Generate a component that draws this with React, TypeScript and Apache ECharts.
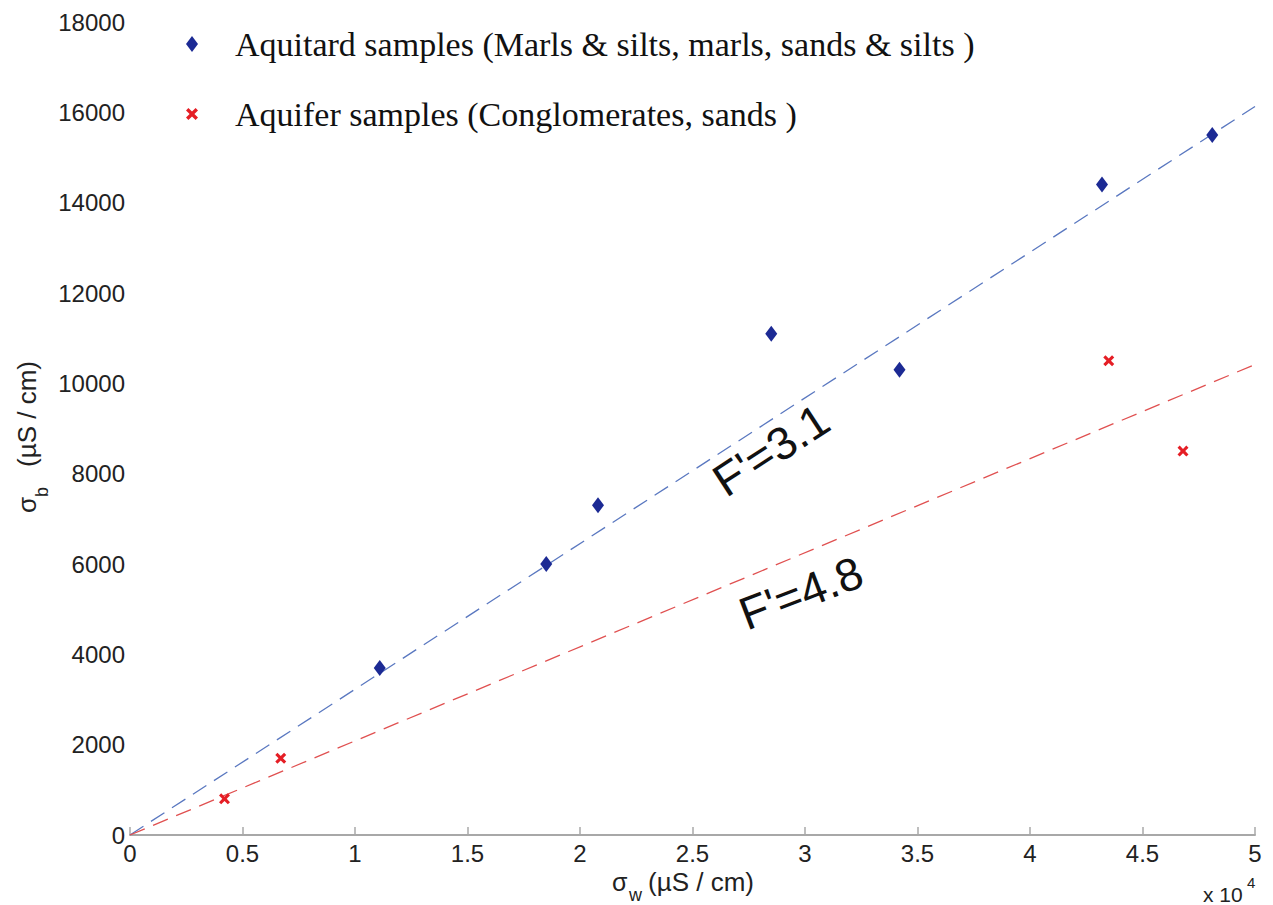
import React, { useEffect, useRef } from "react";
import * as echarts from "echarts";

// sigma_w in µS/cm (axis shows ×10^4), sigma_b in µS/cm
const aquitardX = [11100, 18500, 20800, 28500, 34200, 43200, 48100];
const aquitardY = [3700, 6000, 7300, 11100, 10300, 14400, 15500];
const aquiferX = [4200, 6700, 43500, 46800];
const aquiferY = [800, 1700, 10500, 8500];
const fAquitard = 3.1;
const fAquifer = 4.8;
const xMax = 50000;
const yMax = 18000;
const xInterval = 5000;
const yInterval = 2000;
const aquitardName = "Aquitard samples (Marls & silts, marls, sands & silts )";
const aquiferName = "Aquifer samples (Conglomerates, sands )";

const CROSS = "path://M2,0 L5,3 L8,0 L10,2 L7,5 L10,8 L8,10 L5,7 L2,10 L0,8 L3,5 L0,2 Z";
const DIAMOND = "path://M6,0 L12,8 L6,16 L0,8 Z";

export default function App() {
  const ref = useRef<HTMLDivElement>(null);
  useEffect(() => {
    document.body.style.margin = "0";
    if (!ref.current) return;
    const chart = echarts.init(ref.current, undefined, { renderer: "svg" });
    const sans = "Liberation Sans, Arial, sans-serif";
    const serif = "Liberation Serif, Times New Roman, serif";
    const fitLine = (f: number) => [
      [0, 0],
      [xMax, xMax / f],
    ];
    chart.setOption({
      animation: false,
      backgroundColor: "#ffffff",
      grid: { left: 130, right: 18, top: 22, bottom: 70, containLabel: false },
      legend: {
        orient: "vertical",
        left: 186,
        top: 26,
        padding: 0,
        itemGap: 34,
        itemWidth: 12,
        itemHeight: 16,
        symbolKeepAspect: true,
        textStyle: {
          fontFamily: serif,
          fontSize: 34,
          color: "#111",
          lineHeight: 36,
          padding: [0, 0, 0, 32],
        },
        data: [
          { name: aquitardName, icon: DIAMOND, itemStyle: { color: "#1c2a94", opacity: 1 } },
          { name: aquiferName, icon: CROSS, itemStyle: { color: "#e51e25", opacity: 1 } },
        ],
      },
      xAxis: {
        type: "value",
        min: 0,
        max: xMax,
        interval: xInterval,
        axisLine: { show: true, lineStyle: { color: "#a8a8a8", width: 2 } },
        axisTick: { show: true, inside: true, length: 8, lineStyle: { color: "#a8a8a8", width: 1.5 } },
        axisLabel: {
          fontFamily: sans,
          fontSize: 24,
          color: "#222",
          margin: 6,
          formatter: (v: number) => String(v / 10000),
        },
        splitLine: { show: false },
      },
      yAxis: {
        type: "value",
        min: 0,
        max: yMax,
        interval: yInterval,
        axisLine: { show: false },
        axisTick: { show: false },
        axisLabel: {
          fontFamily: sans,
          fontSize: 24,
          color: "#222",
          margin: 5,
          formatter: (v: number) => String(v),
        },
        splitLine: { show: false },
      },
      series: [
        {
          name: "F'=3.1",
          type: "line",
          data: fitLine(fAquitard),
          showSymbol: false,
          symbol: "none",
          lineStyle: { color: "#5a78c0", width: 1.3, type: [16, 9] },
          z: 1,
        },
        {
          name: "F'=4.8",
          type: "line",
          data: fitLine(fAquifer),
          showSymbol: false,
          symbol: "none",
          lineStyle: { color: "#e05050", width: 1.3, type: [16, 9] },
          z: 1,
        },
        {
          name: aquitardName,
          type: "scatter",
          symbol: "diamond",
          symbolSize: [12, 16],
          itemStyle: { color: "#1c2a94", opacity: 1 },
          data: aquitardX.map((x, i) => [x, aquitardY[i]]),
          z: 3,
        },
        {
          name: aquiferName,
          type: "scatter",
          symbol: CROSS,
          symbolSize: 11,
          itemStyle: { color: "#e51e25", opacity: 1 },
          data: aquiferX.map((x, i) => [x, aquiferY[i]]),
          z: 3,
        },
      ],
      graphic: [
        {
          type: "text",
          x: 771,
          y: 450,
          rotation: (33 * Math.PI) / 180,
          style: {
            text: "F'=3.1",
            fontFamily: sans,
            fontSize: 46,
            fill: "#111",
            textAlign: "center",
            textVerticalAlign: "middle",
          },
        },
        {
          type: "text",
          x: 801,
          y: 593,
          rotation: (21 * Math.PI) / 180,
          style: {
            text: "F'=4.8",
            fontFamily: sans,
            fontSize: 46,
            fill: "#111",
            textAlign: "center",
            textVerticalAlign: "middle",
          },
        },
        // x-axis name
        {
          type: "group",
          x: 612,
          y: 882,
          children: [
            { type: "text", x: 0, y: 0, style: { text: "σ", fontFamily: sans, fontSize: 25, fill: "#222", textVerticalAlign: "middle" } },
            { type: "text", x: 17, y: 13, style: { text: "w", fontFamily: sans, fontSize: 18, fill: "#222", textVerticalAlign: "middle" } },
            { type: "text", x: 36, y: 0, style: { text: "(µS / cm)", fontFamily: sans, fontSize: 26, fill: "#222", textVerticalAlign: "middle" } },
          ],
        },
        // y-axis name
        {
          type: "group",
          x: 27,
          y: 513,
          rotation: Math.PI / 2,
          children: [
            { type: "text", x: 0, y: 0, style: { text: "σ", fontFamily: sans, fontSize: 26, fill: "#222", textVerticalAlign: "middle" } },
            { type: "text", x: 16, y: 15, style: { text: "b", fontFamily: sans, fontSize: 18, fill: "#222", textVerticalAlign: "middle" } },
            { type: "text", x: 46, y: 0, style: { text: "(µS / cm)", fontFamily: sans, fontSize: 26, fill: "#222", textVerticalAlign: "middle" } },
          ],
        },
        // ×10^4 multiplier
        {
          type: "group",
          x: 1203,
          y: 894,
          children: [
            { type: "text", x: 0, y: 0, style: { text: "x 10", fontFamily: sans, fontSize: 21, fill: "#222", textVerticalAlign: "middle" } },
            { type: "text", x: 44, y: -12, style: { text: "4", fontFamily: sans, fontSize: 15, fill: "#222", textVerticalAlign: "middle" } },
          ],
        },
      ],
    });
    return () => chart.dispose();
  }, []);
  return <div ref={ref} style={{ width: 1273, height: 905 }} />;
}
